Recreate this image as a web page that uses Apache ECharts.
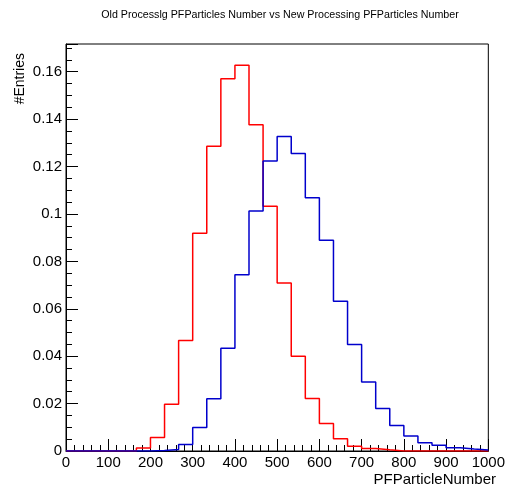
<!DOCTYPE html>
<html>
<head>
<meta charset="utf-8">
<script src="https://cdn.jsdelivr.net/npm/echarts@6/dist/echarts.min.js"></script>
<style>
html,body{margin:0;padding:0;background:#fff;}
#chart{width:508px;height:488px;}
</style>
</head>
<body>
<div id="chart"></div>
<script>
var titleText = 'Old Processlg PFParticles Number vs New Processing PFParticles Number';
var xName = 'PFParticleNumber';
var yName = '#Entries';
var xMin = 0, xMax = 1000, nBins = 30;
// bin contents (normalized), bins of width 1000/30
var oldProcessing = [0,0,0,0,0,0.0013,0.0057,0.0197,0.0466,0.0919,0.1286,0.157,0.1627,0.1376,0.1033,0.0709,0.040,0.0221,0.0116,0.0052,0.002,0.0011,0.0005,0,0,0,0,0,0,0];
var newProcessing = [0,0,0,0,0,0,0.0002,0.0006,0.0027,0.0099,0.022,0.0433,0.0744,0.1012,0.1223,0.1327,0.1255,0.1068,0.0889,0.0632,0.0449,0.0291,0.0179,0.0108,0.0063,0.0035,0.0024,0.0014,0.0008,0.0004];

function stepData(vals){
  var w = (xMax - xMin) / nBins;
  var d = [];
  for (var i = 0; i < vals.length; i++) d.push([xMin + i * w, vals[i]]);
  d.push([xMax, vals[vals.length - 1]]);
  return d;
}

var font = 'Liberation Sans, Arial, Helvetica, sans-serif';
var chart = echarts.init(document.getElementById('chart'), null, {renderer:'canvas'});
chart.setOption({
  animation: false,
  backgroundColor: '#fff',
  title: {
    text: titleText, left: 275, top: 5, textAlign: 'center',
    textStyle: {fontSize: 10.7, fontWeight: 'normal', color: '#000', fontFamily: font}
  },
  grid: {left: 66, right: 17, top: 44, bottom: 37, show: true, borderColor: '#000', borderWidth: 1, backgroundColor: 'transparent'},
  xAxis: {
    type: 'value', min: xMin, max: xMax, interval: 100,
    axisLine: {show: true, lineStyle: {color: '#000', width: 1}},
    axisTick: {show: true, inside: true, length: 12, lineStyle: {color: '#000'}},
    minorTick: {show: true, splitNumber: 5, length: 6, lineStyle: {color: '#000'}},
    splitLine: {show: false},
    axisLabel: {color: '#000', fontSize: 15, fontFamily: font, margin: 4,
      formatter: function(v){ return String(v); }}
  },
  yAxis: {
    type: 'value', min: 0, max: 0.1717, interval: 0.02,
    axisLine: {show: true, lineStyle: {color: '#000', width: 1}},
    axisTick: {show: true, inside: true, length: 12, lineStyle: {color: '#000'}},
    minorTick: {show: true, splitNumber: 4, length: 6, lineStyle: {color: '#000'}},
    splitLine: {show: false},
    axisLabel: {color: '#000', fontSize: 15, fontFamily: font, margin: 4, showMaxLabel: false,
      formatter: function(v){ return String(Math.round(v*100)/100); }}
  },
  graphic: [
    {type: 'text', x: 20, y: 53, rotation: Math.PI/2,
     style: {text: yName, fill: '#000', font: '14px ' + font, align: 'right', verticalAlign: 'middle'}},
    {type: 'text', x: 496, y: 480,
     style: {text: xName, fill: '#000', font: '15px ' + font, align: 'right', verticalAlign: 'middle'}}
  ],
  series: [
    {type: 'line', step: 'end', data: stepData(oldProcessing), symbol: 'none',
     lineStyle: {color: '#ff0000', width: 1.5}, z: 2},
    {type: 'line', step: 'end', data: stepData(newProcessing), symbol: 'none',
     lineStyle: {color: '#0000cc', width: 1.5}, z: 3}
  ]
});
</script>
</body>
</html>
